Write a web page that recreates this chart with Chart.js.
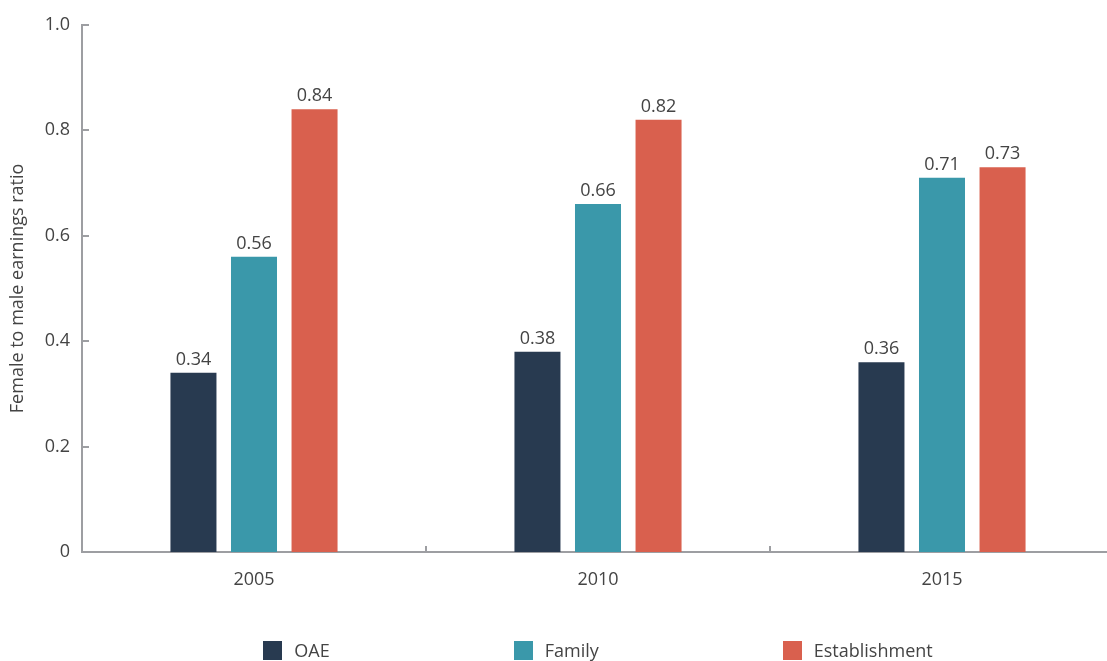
<!DOCTYPE html>
<html>
<head>
<meta charset="utf-8">
<script src="https://cdn.jsdelivr.net/npm/chart.js@4"></script>
<style>
  html, body { margin: 0; padding: 0; background: #fff; overflow: hidden; }
  #wrap { position: relative; width: 1107px; height: 661px; overflow: hidden; }
  #c { position: absolute; left: 0; top: 2px; }
  #legend { position: absolute; left: 82px; width: 1032px; top: 639px; display: flex; justify-content: center; gap: 184px; font-family: "Open Sans", sans-serif; font-size: 18px; line-height: 22px; color: #444; }
  .item { display: flex; align-items: center; }
  .box { width: 19px; height: 19px; margin-right: 12px; }
</style>
</head>
<body>
<div id="wrap">
  <canvas id="c" width="1114" height="659"></canvas>
  <div id="legend"></div>
</div>
<script>
const categories = ["2005", "2010", "2015"];
const seriesNames = ["OAE", "Family", "Establishment"];
const oae = [0.34, 0.38, 0.36];
const family = [0.56, 0.66, 0.71];
const establishment = [0.84, 0.82, 0.73];
const colors = ["#283a50", "#3a98aa", "#d9604e"];
const yTicks = [0, 0.2, 0.4, 0.6, 0.8, 1.0];
const yTitle = "Female to male earnings ratio";

const FONT = "'Open Sans', sans-serif";
const TEXT = "#444";
const AXIS = "#9d9ea2";

const valuesBySeries = [oae, family, establishment];

const legend = document.getElementById('legend');
seriesNames.forEach((n, i) => {
  const it = document.createElement('div'); it.className = 'item';
  const b = document.createElement('div'); b.className = 'box'; b.style.background = colors[i];
  const t = document.createElement('span'); t.textContent = n;
  it.appendChild(b); it.appendChild(t); legend.appendChild(it);
});

const valueLabels = {
  id: 'valueLabels',
  afterDatasetsDraw(chart) {
    const ctx = chart.ctx;
    ctx.save();
    ctx.font = "18px " + FONT;
    ctx.fillStyle = TEXT;
    ctx.textAlign = 'center';
    ctx.textBaseline = 'alphabetic';
    chart.data.datasets.forEach((ds, di) => {
      chart.getDatasetMeta(di).data.forEach((bar, i) => {
        ctx.fillText(ds.data[i].toFixed(2), bar.x, bar.y - 8);
      });
    });
    ctx.restore();
  }
};

const innerTicks = {
  id: 'innerTicks',
  afterDraw(chart) {
    const ctx = chart.ctx;
    const x = chart.scales.x, y = chart.scales.y;
    ctx.save();
    ctx.strokeStyle = AXIS;
    ctx.lineWidth = 2;
    ctx.beginPath();
    yTicks.forEach(v => {
      if (v === 0) return;
      const py = Math.round(y.getPixelForValue(v));
      ctx.moveTo(x.left, py); ctx.lineTo(x.left + 7, py);
    });
    for (let i = 1; i < categories.length; i++) {
      const px = Math.round((x.getPixelForValue(i - 1) + x.getPixelForValue(i)) / 2);
      ctx.moveTo(px, y.bottom); ctx.lineTo(px, y.bottom - 6);
    }
    ctx.stroke();
    ctx.restore();
  }
};

new Chart(document.getElementById('c'), {
  type: 'bar',
  data: {
    labels: categories,
    datasets: seriesNames.map((n, i) => ({
      label: n,
      data: valuesBySeries[i],
      backgroundColor: colors[i],
      borderWidth: 0,
      barPercentage: 0.76,
      categoryPercentage: 0.528
    }))
  },
  options: {
    responsive: false,
    animation: false,
    devicePixelRatio: 1,
    layout: { padding: { top: 19, right: 0, left: 0, bottom: 0 } },
    plugins: { legend: { display: false }, tooltip: { enabled: false } },
    scales: {
      x: {
        grid: { display: false, drawTicks: false },
        border: { display: true, color: AXIS, width: 2 },
        ticks: { font: { family: FONT, size: 18 }, color: TEXT, padding: 17 },
        afterFit(s) { s.height = 109; }
      },
      y: {
        min: 0, max: 1,
        afterBuildTicks(s) { s.ticks = yTicks.map(v => ({ value: v })); },
        grid: { display: false, drawTicks: false },
        border: { display: true, color: AXIS, width: 2 },
        ticks: {
          font: { family: FONT, size: 18 }, color: TEXT, padding: 12,
          callback: v => v === 0 ? '0' : v.toFixed(1)
        },
        title: { display: true, text: yTitle, font: { family: FONT, size: 18 }, color: TEXT, padding: { top: 7, bottom: 0 } },
        afterFit(s) { s.width = 82; }
      }
    }
  },
  plugins: [valueLabels, innerTicks]
});
</script>
</body>
</html>
